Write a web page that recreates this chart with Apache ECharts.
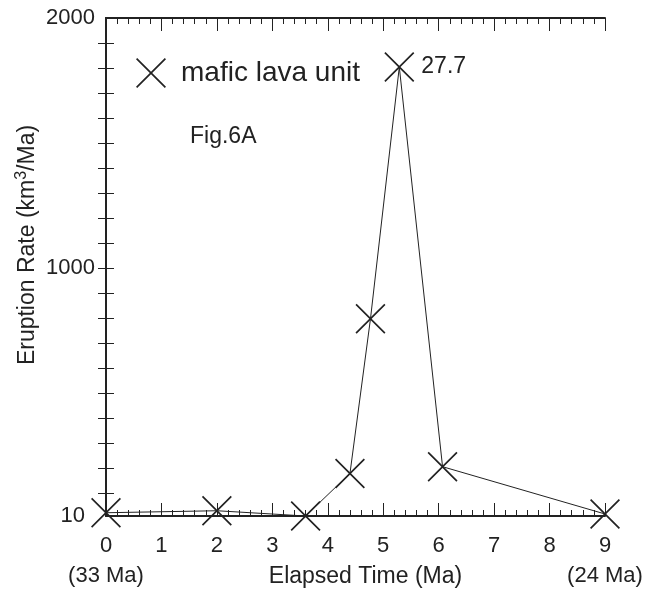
<!DOCTYPE html>
<html>
<head>
<meta charset="utf-8">
<script src="https://cdn.jsdelivr.net/npm/echarts@6/dist/echarts.min.js"></script>
<style>
  html, body { margin: 0; padding: 0; background: #fff; }
  #chart { width: 654px; height: 598px; }
</style>
</head>
<body>
<div id="chart"></div>
<script>
// values
const elapsed = [0, 2, 3.6, 4.4, 4.77, 5.29, 6.07, 9]
const eruptionRate = [23, 31, 10, 180, 798, 1804, 207, 18]
const peakIndex = 5
const peakLabel = '27.7'
const xTickLabels = ['0\n(33 Ma)', '1', '2', '3', '4', '5', '6', '7', '8', '9\n(24 Ma)']
const yLabelValues = [10, 1000, 2000]
const yTickValues = [100, 200, 300, 400, 500, 600, 700, 800, 900, 1000,
  1100, 1200, 1300, 1400, 1500, 1600, 1700, 1800, 1900]
const seriesName = 'mafic lava unit'
const figLabel = 'Fig.6A'

const ink = '#222'
const font = "'Liberation Sans', Arial, sans-serif"
// X marker as a filled outline so series and legend share it
const crossPath = 'path://M0,4L4,0L50,46L96,0L100,4L54,50L100,96L96,100L50,54L4,100L0,96L46,50Z'

const chart = echarts.init(document.getElementById('chart'))

const xTicks = {
  show: true, inside: true, length: 13,
  lineStyle: { color: ink, width: 1 }
}
const xMinor = {
  show: true, splitNumber: 5, length: 6,
  lineStyle: { color: ink, width: 1 }
}
const yTicks = {
  show: true, inside: true, length: 8,
  customValues: yTickValues,
  lineStyle: { color: ink, width: 1 }
}

const option = {
  backgroundColor: '#fff',
  animation: false,
  textStyle: { fontFamily: font },
  grid: { left: 106, right: 49, top: 18, bottom: 82, containLabel: false, outerBoundsMode: 'none' },
  legend: {
    left: 131,
    top: 53,
    itemWidth: 30,
    itemHeight: 30,
    data: [{ name: seriesName, icon: crossPath }],
    textStyle: { color: ink, fontSize: 28, fontFamily: font, padding: [0, 0, 0, 10] }
  },
  graphic: [
    {
      type: 'text',
      left: 190,
      top: 125,
      style: { text: figLabel, fontSize: 23, fontFamily: font, fill: ink }
    }
  ],
  xAxis: [
    {
      type: 'value',
      min: 0,
      max: 9,
      interval: 1,
      name: 'Elapsed Time (Ma)',
      nameLocation: 'middle',
      nameGap: 49,
      nameMoveOverlap: false,
      nameTextStyle: { color: ink, fontSize: 23, fontFamily: font, padding: [0, 0, 0, 20] },
      axisLine: { show: true, lineStyle: { color: ink, width: 2 } },
      axisTick: xTicks,
      minorTick: xMinor,
      splitLine: { show: false },
      axisLabel: {
        color: ink, fontSize: 22, fontFamily: font, margin: 15, lineHeight: 30,
        formatter: v => xTickLabels[Math.round(v)]
      }
    },
    {
      type: 'value',
      position: 'top',
      min: 0,
      max: 9,
      interval: 1,
      axisLine: { show: true, lineStyle: { color: ink, width: 2 } },
      axisTick: xTicks,
      minorTick: xMinor,
      splitLine: { show: false },
      axisLabel: { show: false }
    }
  ],
  yAxis: [
    {
      type: 'value',
      min: 10,
      max: 2000,
      name: 'Eruption Rate (km{sup|3}/Ma)',
      nameLocation: 'middle',
      nameRotate: 90,
      nameGap: 64,
      nameMoveOverlap: false,
      nameTextStyle: {
        color: ink, fontSize: 23, fontFamily: font, lineHeight: 28, padding: [0, 0, 0, 44],
        rich: { sup: { fontSize: 16, lineHeight: 16, fontFamily: font, color: ink, verticalAlign: 'top' } }
      },
      axisLine: { show: true, lineStyle: { color: ink, width: 2 } },
      axisTick: yTicks,
      splitLine: { show: false },
      axisLabel: {
        color: ink, fontSize: 22, fontFamily: font, margin: 11,
        customValues: yLabelValues,
        formatter: v => (v === yLabelValues[0] ? '{lo|' + v + '}' : String(v)),
        rich: { lo: { fontSize: 22, fontFamily: font, color: ink, padding: [0, 10, 0, 0] } }
      }
    },
    {
      type: 'value',
      position: 'right',
      min: 10,
      max: 2000,
      axisLine: { show: true, lineStyle: { color: ink, width: 2 } },
      axisTick: yTicks,
      splitLine: { show: false },
      axisLabel: { show: false }
    }
  ],
  series: [
    {
      name: seriesName,
      type: 'line',
      xAxisIndex: 0,
      yAxisIndex: 0,
      data: elapsed.map((x, i) => {
        const item = { value: [x, eruptionRate[i]] }
        if (i === peakIndex) {
          item.label = {
            show: true, position: 'right', distance: 7,
            formatter: peakLabel, color: ink, fontSize: 23, fontFamily: font
          }
        }
        return item
      }),
      symbol: crossPath,
      symbolSize: 30,
      itemStyle: { color: ink },
      lineStyle: { color: ink, width: 1 },
      z: 3
    }
  ]
}

chart.setOption(option)
</script>
</body>
</html>
